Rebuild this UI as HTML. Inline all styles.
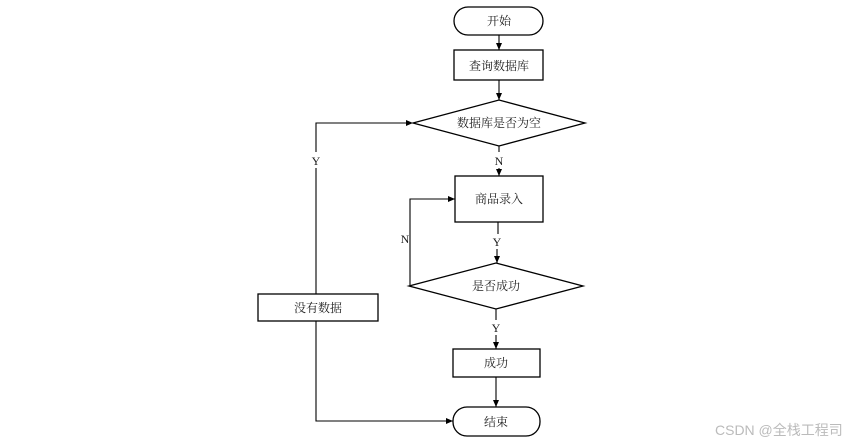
<!DOCTYPE html>
<html><head><meta charset="utf-8"><style>
body{margin:0;background:#fff;}
svg{display:block;}
text{font-family:"Liberation Serif","Noto Serif CJK SC",serif;font-size:12px;fill:#222;}
</style></head><body>
<svg width="866" height="446" viewBox="0 0 866 446">
<defs><marker id="a" markerWidth="8" markerHeight="8" refX="7" refY="4" orient="auto" markerUnits="userSpaceOnUse"><path d="M0,1 L7,4 L0,7z" fill="#000"/></marker></defs>
<g stroke="#000" stroke-width="1.3" fill="#fff">
<rect x="454" y="7" width="89" height="28" rx="14"/>
<rect x="454" y="50" width="89" height="30"/>
<polygon points="413,123 499,100 585,123 499,146"/>
<rect x="455" y="176" width="88" height="46"/>
<polygon points="409,286 496,263 583,286 496,309"/>
<rect x="258" y="294" width="120" height="27"/>
<rect x="453" y="349" width="87" height="28"/>
<rect x="453" y="407" width="87" height="29" rx="14"/>
</g>
<g stroke="#000" stroke-width="1.1" fill="none">
<line x1="499" y1="35" x2="499" y2="50" marker-end="url(#a)"/>
<line x1="499" y1="80" x2="499" y2="100" marker-end="url(#a)"/>
<line x1="499" y1="146" x2="499" y2="152"/>
<line x1="499" y1="168" x2="499" y2="176" marker-end="url(#a)"/>
<line x1="498" y1="222" x2="498" y2="234"/>
<line x1="497" y1="249" x2="497" y2="263" marker-end="url(#a)"/>
<line x1="496" y1="309" x2="496" y2="320"/>
<line x1="496" y1="335" x2="496" y2="349" marker-end="url(#a)"/>
<line x1="496" y1="377" x2="496" y2="407" marker-end="url(#a)"/>
<polyline points="410,286 410,199 455,199" marker-end="url(#a)"/>
<polyline points="316,152 316,123 413,123" marker-end="url(#a)"/>
<line x1="316" y1="168" x2="316" y2="294"/>
<polyline points="316,321 316,421 453,421" marker-end="url(#a)"/>
</g>
<g text-anchor="middle">
<text x="499" y="25">开始</text>
<text x="499" y="70">查询数据库</text>
<text x="499" y="127">数据库是否为空</text>
<text x="499" y="165">N</text>
<text x="316" y="165">Y</text>
<text x="499" y="203">商品录入</text>
<text x="405" y="243">N</text>
<text x="497" y="246">Y</text>
<text x="496" y="290">是否成功</text>
<text x="318" y="312">没有数据</text>
<text x="496" y="332">Y</text>
<text x="496" y="367">成功</text>
<text x="496" y="426">结束</text>
</g>
<text x="715" y="435" style="font-family:'Liberation Sans','Noto Sans CJK SC',sans-serif;font-size:14px;fill:#bbb;">CSDN @全栈工程司</text>
</svg>
</body></html>
